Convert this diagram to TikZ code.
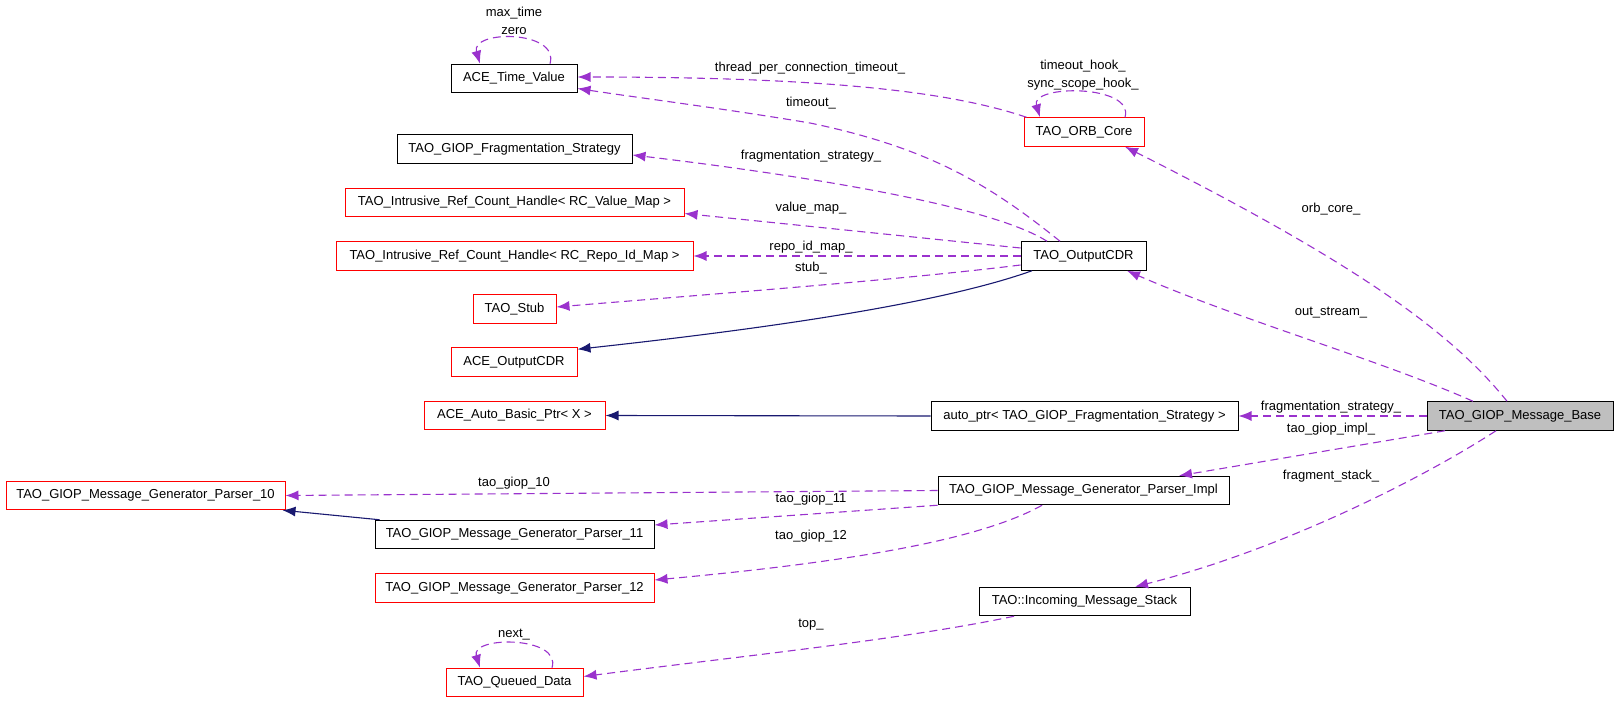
\documentclass[tikz,border=0pt]{standalone}
\usepackage{fontspec}
\setmainfont{Liberation Sans}
\usetikzlibrary{arrows.meta}
\definecolor{usecol}{HTML}{9A32CD}
\definecolor{inhcol}{HTML}{191970}
\definecolor{basecol}{HTML}{BFBFBF}

\begin{document}
\begin{tikzpicture}[x=1pt,y=-1pt,
    box/.style={draw=black,line width=1pt,minimum height=28.5pt,inner sep=0pt,font=\fontsize{13}{15}\selectfont},
    redbox/.style={box,draw=red},
    usage/.style={usecol,line width=1.1pt,dash pattern=on 8pt off 5pt,-{Latex[length=13pt,width=10pt]}},
    inherit/.style={inhcol,line width=1.1pt,-{Latex[length=13pt,width=10pt]}},
    lbl/.style={font=\fontsize{13}{15}\selectfont,inner sep=0pt}]
    \useasboundingbox (0,0) rectangle (1619,703);
    % classes
    \node[box,minimum width=126pt] (tv) at (514,78.5) {ACE\_Time\_Value};
    \node[redbox,minimum width=120pt] (orb) at (1084,132) {TAO\_ORB\_Core};
    \node[box,minimum width=235pt] (fs) at (514.5,149) {TAO\_GIOP\_Fragmentation\_Strategy};
    \node[redbox,minimum width=339pt] (vm) at (514.5,202.5) {TAO\_Intrusive\_Ref\_Count\_Handle< RC\_Value\_Map >};
    \node[redbox,minimum width=357pt] (rm) at (514.5,256) {TAO\_Intrusive\_Ref\_Count\_Handle< RC\_Repo\_Id\_Map >};
    \node[redbox,minimum width=83pt] (stub) at (514.5,309) {TAO\_Stub};
    \node[redbox,minimum width=126pt] (acdr) at (514,362) {ACE\_OutputCDR};
    \node[box,minimum width=125pt] (ocdr) at (1083.5,256) {TAO\_OutputCDR};
    \node[redbox,minimum width=181pt] (abp) at (514.5,415.5) {ACE\_Auto\_Basic\_Ptr< X >};
    \node[box,minimum width=307pt] (aptr) at (1084.5,416) {auto\_ptr< TAO\_GIOP\_Fragmentation\_Strategy >};
    \node[box,fill=basecol,minimum width=186pt] (base) at (1520,416) {TAO\_GIOP\_Message\_Base};
    \node[redbox,minimum width=279pt] (p10) at (145.5,495.5) {TAO\_GIOP\_Message\_Generator\_Parser\_10};
    \node[box,minimum width=279pt] (p11) at (514.5,534.5) {TAO\_GIOP\_Message\_Generator\_Parser\_11};
    \node[redbox,minimum width=279pt] (p12) at (514.5,588) {TAO\_GIOP\_Message\_Generator\_Parser\_12};
    \node[box,minimum width=291pt] (impl) at (1083.5,490.5) {TAO\_GIOP\_Message\_Generator\_Parser\_Impl};
    \node[box,minimum width=211pt] (stack) at (1084.5,601.5) {TAO::Incoming\_Message\_Stack};
    \node[redbox,minimum width=137pt] (qd) at (514.5,682.5) {TAO\_Queued\_Data};
    % self loops
    \draw[usage] ([xshift=36pt]tv.north) .. controls +(10,-34) and +(-10,-34) .. ([xshift=-34pt]tv.north);
    \draw[usage] ([xshift=41pt]orb.north) .. controls +(10,-33) and +(-10,-33) .. ([xshift=-44pt]orb.north);
    \draw[usage] ([xshift=37.5pt]qd.north) .. controls +(10,-32) and +(-10,-32) .. ([xshift=-34.5pt]qd.north);
    % members
    \draw[usage] ([xshift=3pt]orb.north west) .. controls (960,95) and (850,77) .. ([yshift=1.5pt]tv.east);
    \draw[usage] ([xshift=-23.5pt]ocdr.north) .. controls (990,185) and (930,148) .. (810,123) .. controls (720,108) and (640,98) .. ([yshift=-10pt]tv.east);
    \draw[usage] ([xshift=-36.5pt]ocdr.north) .. controls (990,205) and (800,175) .. ([yshift=-6pt]fs.east);
    \draw[usage] ([yshift=8pt]ocdr.west) -- ([yshift=-11pt]vm.east);
    \draw[usage] (ocdr.west) -- (rm.east);
    \draw[usage] ([yshift=-9pt]ocdr.west) .. controls (900,280) and (700,295) .. ([yshift=2pt]stub.east);
    \draw[usage] (base.west) -- (aptr.east);
    \draw[usage] ([xshift=-13pt]base.north) .. controls (1450,330) and (1350,260) .. ([xshift=41pt]orb.south);
    \draw[usage] ([xshift=-47pt]base.north) .. controls (1380,360) and (1240,320) .. ([xshift=43.5pt]ocdr.south);
    \draw[usage] ([xshift=-75pt]base.south) -- ([xshift=95.5pt]impl.north);
    \draw[usage] ([xshift=-24pt]base.south) .. controls (1420,480) and (1280,550) .. ([xshift=50.5pt]stack.north);
    \draw[usage] (impl.west) -- (p10.east);
    \draw[usage] (impl.south west) -- ([yshift=9.5pt]p11.east);
    \draw[usage] ([xshift=-41.5pt]impl.south) .. controls (980,540) and (850,562) .. ([yshift=8pt]p12.east);
    \draw[usage] ([xshift=-70.5pt]stack.south) .. controls (900,640) and (750,655) .. ([yshift=6pt]qd.east);
    % inheritance
    \draw[inherit] ([xshift=-51.5pt]ocdr.south) .. controls (950,300) and (800,325) .. ([yshift=-2pt]acdr.north east);
    \draw[inherit] (aptr.west) -- (abp.east);
    \draw[inherit] ([xshift=5pt]p11.north west) -- ([xshift=-3pt]p10.south east);
    % labels
    \node[lbl] (l-maxtime) at (514,13) {max\_time};
    \node[lbl] (l-zero) at (514,31) {zero};
    \node[lbl] (l-tohook) at (1083,66) {timeout\_hook\_};
    \node[lbl] (l-sshook) at (1083,84) {sync\_scope\_hook\_};
    \node[lbl] (l-next) at (514,635) {next\_};
    \node[lbl] (l-tpct) at (810,68) {thread\_per\_connection\_timeout\_};
    \node[lbl] (l-timeout) at (811,103) {timeout\_};
    \node[lbl] (l-fstrat) at (811,156) {fragmentation\_strategy\_};
    \node[lbl] (l-vmap) at (811,208) {value\_map\_};
    \node[lbl] (l-rmap) at (811,247) {repo\_id\_map\_};
    \node[lbl] (l-stub) at (811,268) {stub\_};
    \node[lbl] (l-orbcore) at (1331,209) {orb\_core\_};
    \node[lbl] (l-ostream) at (1331,313) {out\_stream\_};
    \node[lbl] (l-fstrat2) at (1331,407) {fragmentation\_strategy\_};
    \node[lbl] (l-impl) at (1331,429) {tao\_giop\_impl\_};
    \node[lbl] (l-fstack) at (1331,476) {fragment\_stack\_};
    \node[lbl] (l-giop10) at (514,483) {tao\_giop\_10};
    \node[lbl] (l-giop11) at (811,499) {tao\_giop\_11};
    \node[lbl] (l-giop12) at (811,536) {tao\_giop\_12};
    \node[lbl] (l-top) at (811,625) {top\_};
\end{tikzpicture}
\end{document}
